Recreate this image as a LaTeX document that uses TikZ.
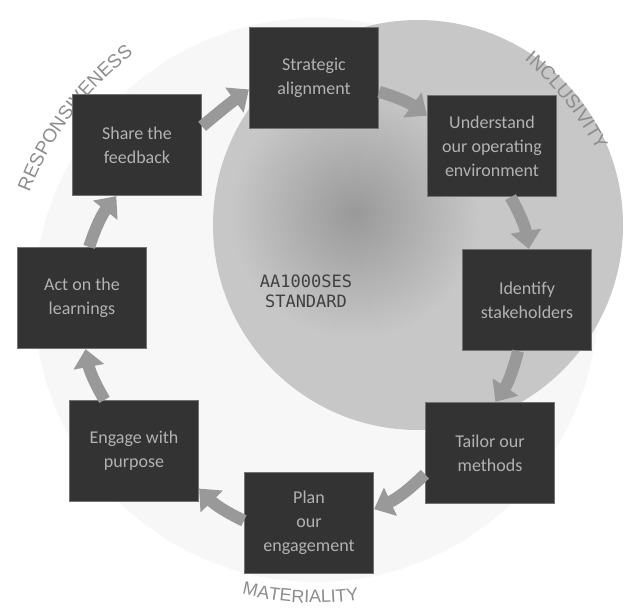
\documentclass[tikz,border=0pt]{standalone}
\usepackage{fontspec}
\setmainfont{Carlito}
\newfontfamily\arcfont{Liberation Sans}
\newfontfamily\stdfont{DejaVu Sans Mono}
\usetikzlibrary{arrows.meta,decorations.text}
\begin{document}
\begin{tikzpicture}[x=1pt,y=1pt,
  box/.style={fill=black!80, draw=black!55, line width=1.2pt, minimum width=129pt,
    minimum height=101pt, align=center, text=black!30, inner sep=2pt,
    font=\fontsize{18}{24}\selectfont},
  flow/.style={draw=black!40, line width=12pt, -{Triangle[length=18pt,width=30pt]}, bend left=10}
]
\useasboundingbox (0,0) rectangle (629,611);
% background
\fill[black!3] (316,311) circle (282);
\fill[black!22] (418,386) circle (205);
\shade[inner color=black!40, outer color=black!22] (355,398) circle (125);

% curved labels
\path[decorate, decoration={text along path, text align=center,
  text={|\arcfont\fontsize{19}{19}\selectfont\color{black!45}|RESPONSIVENESS}}]
  (316,311) ++(168:306) arc[start angle=168, end angle=118, radius=306];
\path[decorate, decoration={text along path, text align=center,
  text={|\arcfont\fontsize{19}{19}\selectfont\color{black!45}|INCLUSIVITY}}]
  (316,311) ++(62:318) arc[start angle=62, end angle=15, radius=318];
\path[decorate, decoration={text along path, text align=center,
  text={|\arcfont\fontsize{18}{18}\selectfont\color{black!45}|MATERIALITY}}]
  (316,311) ++(245:303) arc[start angle=245, end angle=289, radius=303];

% centre text
\node[font=\stdfont\fontsize{17}{20}\selectfont, text=black!75, align=center] (std) at (306,320) {AA1000SES\\STANDARD};

% boxes
\node[box] (strat)  at (314,533) {Strategic\\alignment};
\node[box] (share)  at (137,466) {Share the\\feedback};
\node[box] (under)  at (492,465) {Understand\\our operating\\environment};
\node[box] (act)    at (82,313)  {Act on the\\learnings};
\node[box] (ident)  at (527,311) {Identify\\stakeholders};
\node[box] (engage) at (134,160) {Engage with\\purpose};
\node[box] (tailor) at (490,158) {Tailor our\\methods};
\node[box] (plan)   at (309,88)  {Plan\\our\\engagement};

% connectors
\draw[flow, bend left=2] (share.16) to (strat.190);
\draw[flow] (strat.-12)  to (under.155);
\draw[flow] (under.-70)  to (ident.88);
\draw[flow] (ident.-100) to (tailor.84);
\draw[flow] (tailor.198) to (plan.12);
\draw[flow] (plan.178)   to (engage.-30);
\draw[flow] (engage.120) to (act.-86);
\draw[flow] (act.82)     to (share.-112);
\end{tikzpicture}
\end{document}
